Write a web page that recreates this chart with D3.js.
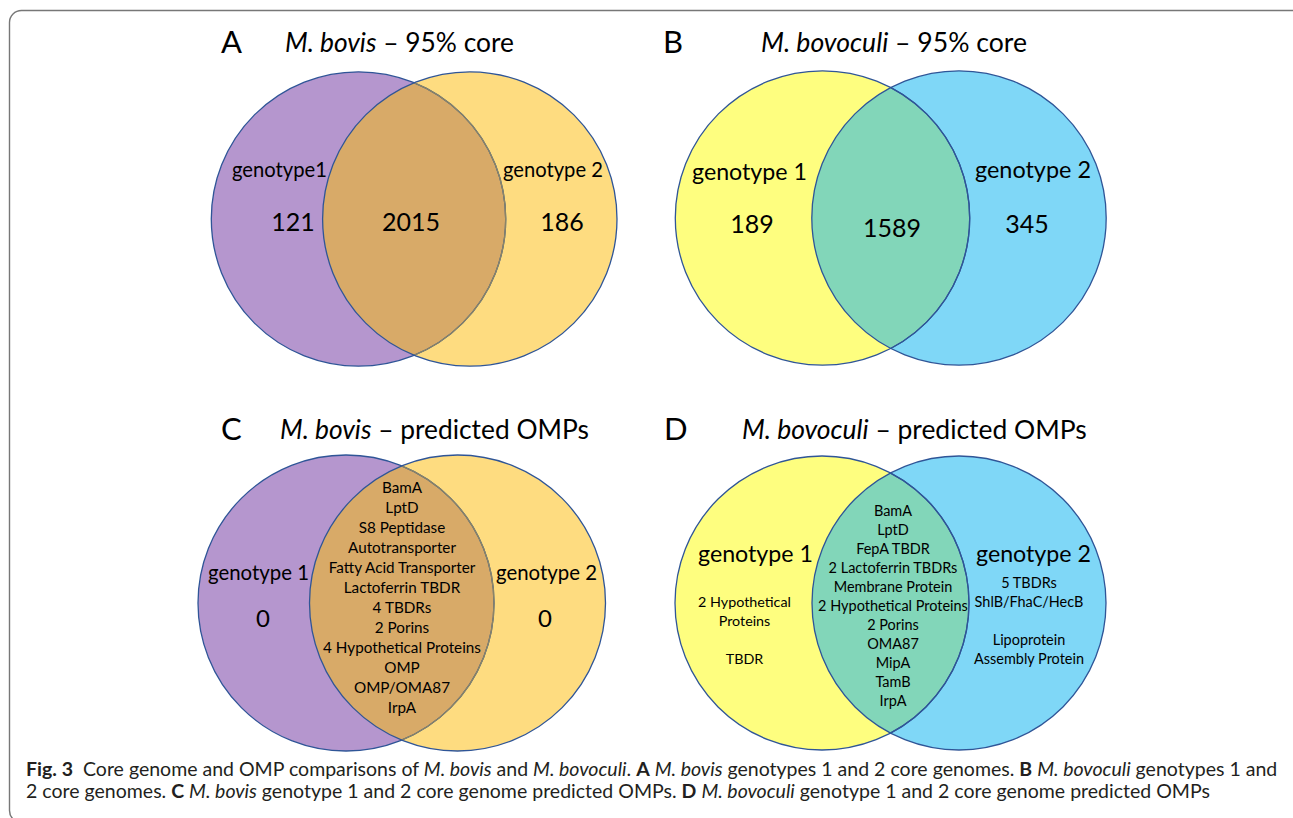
<!DOCTYPE html>
<html>
<head>
<meta charset="utf-8">
<script src="https://cdn.jsdelivr.net/npm/d3@7"></script>
<style>
  body { margin: 0; background: #fff; }
  svg { display: block; }
</style>
</head>
<body>
<svg id="fig" width="1293" height="818"></svg>
<script>
// ---- data ----
const panelLetters = ["A", "B", "C", "D"];
const panelSpecies = ["M. bovis", "M. bovoculi", "M. bovis", "M. bovoculi"];
const panelSubtitles = ["95% core", "95% core", "predicted OMPs", "predicted OMPs"];
const setNames = [
    ["genotype1", "genotype 2"],
    ["genotype 1", "genotype 2"],
    ["genotype 1", "genotype 2"],
    ["genotype 1", "genotype 2"]
];
const bovisCore = [121, 2015, 186];
const bovoculiCore = [189, 1589, 345];
const bovisOmpOnly = [0, 0];
const bovisOmpShared = ["BamA", "LptD", "S8 Peptidase", "Autotransporter",
    "Fatty Acid Transporter", "Lactoferrin TBDR", "4 TBDRs", "2 Porins",
    "4 Hypothetical Proteins", "OMP", "OMP/OMA87", "IrpA"];
const bovoculiOmpG1 = ["2 Hypothetical", "Proteins", "", "TBDR"];
const bovoculiOmpShared = ["BamA", "LptD", "FepA TBDR", "2 Lactoferrin TBDRs",
    "Membrane Protein", "2 Hypothetical Proteins", "2 Porins", "OMA87",
    "MipA", "TamB", "IrpA"];
const bovoculiOmpG2 = ["5 TBDRs", "ShlB/FhaC/HecB", "", "Lipoprotein", "Assembly Protein"];

// ---- layout ----
const FONT = "Lato, 'Open Sans', sans-serif";
const bovisColors = { left: "#B596CE", right: "#FEDC80", lens: "#D8AA68", inner: "#8A8466" };
const bovoculiColors = { left: "#FEFE7F", right: "#7FD7F7", lens: "#82D6B9", inner: "#2F5597" };
const outline = "#2F5597";

const layout = [
    { letterX: 221, titleX: 285, titleW: 229, titleY: 52,
      c1: 358.5, c2: 469.8, cy: 219, r: 147.2, colors: bovisColors,
      labels: [{ x: 232, y: 177, w: 95 }, { x: 503, y: 177, w: 100 }] },
    { letterX: 663, titleX: 761, titleW: 266, titleY: 52,
      c1: 822.5, c2: 959, cy: 218, r: 147.2, colors: bovoculiColors,
      labels: [{ x: 692, y: 180, w: 115 }, { x: 975, y: 178, w: 116 }] },
    { letterX: 221, titleX: 280, titleW: 309, titleY: 439,
      c1: 346, c2: 457.5, cy: 603, r: 148, colors: bovisColors,
      labels: [{ x: 208, y: 580, w: 101 }, { x: 496, y: 580, w: 101 }] },
    { letterX: 664, titleX: 742, titleW: 345, titleY: 439,
      c1: 822, c2: 959, cy: 603, r: 147, colors: bovoculiColors,
      labels: [{ x: 698, y: 562, w: 115 }, { x: 976, y: 562, w: 115 }] }
];

const svg = d3.select("#fig").style("font-family", FONT);
const defs = svg.append("defs");

// fit a text element's width to the picture
function fitWidth(sel, target) {
    sel.each(function () {
        const w = this.getComputedTextLength();
        const fs = parseFloat(d3.select(this).attr("font-size"));
        if (w > 0) d3.select(this).attr("font-size", fs * target / w);
    });
}

// frame
svg.append("rect")
    .attr("x", 9.5).attr("y", 10.5)
    .attr("width", 1300).attr("height", 812)
    .attr("rx", 12)
    .attr("fill", "none")
    .attr("stroke", "#777")
    .attr("stroke-width", 1.4);

layout.forEach((p, i) => {
    const g = svg.append("g");
    const c = p.colors;

    defs.append("clipPath").attr("id", `clipL${i}`)
        .append("circle").attr("cx", p.c1).attr("cy", p.cy).attr("r", p.r);
    defs.append("clipPath").attr("id", `clipR${i}`)
        .append("circle").attr("cx", p.c2).attr("cy", p.cy).attr("r", p.r);

    const circ = (cx) => g.append("circle").attr("cx", cx).attr("cy", p.cy).attr("r", p.r);

    circ(p.c1).attr("fill", c.left);
    circ(p.c2).attr("fill", c.right);
    circ(p.c2).attr("fill", c.lens).attr("clip-path", `url(#clipL${i})`);
    circ(p.c1).attr("fill", "none").attr("stroke", outline).attr("stroke-width", 1.3);
    circ(p.c1).attr("fill", "none").attr("stroke", c.inner).attr("stroke-width", 1.3)
        .attr("clip-path", `url(#clipR${i})`);
    circ(p.c2).attr("fill", "none").attr("stroke", outline).attr("stroke-width", 1.3);

    // panel letter
    g.append("text")
        .attr("x", p.letterX).attr("y", p.titleY + 1)
        .attr("font-size", 31)
        .text(panelLetters[i]);

    // title
    const t = g.append("text")
        .attr("x", p.titleX).attr("y", p.titleY)
        .attr("font-size", 24);
    t.append("tspan").attr("font-style", "italic").text(panelSpecies[i]);
    t.append("tspan").text(" \u2013 " + panelSubtitles[i]);
    fitWidth(t, p.titleW);

    // set labels
    setNames[i].forEach((name, k) => {
        const lb = p.labels[k];
        const tx = g.append("text")
            .attr("x", lb.x).attr("y", lb.y)
            .attr("font-size", 20)
            .text(name);
        fitWidth(tx, lb.w);
    });
});

// counts for the core genome panels
const countPos = [
    { xs: [293, 411, 562], ys: [231, 231, 231] },
    { xs: [752, 892, 1027], ys: [233, 237, 233] }
];
[bovisCore, bovoculiCore].forEach((vals, j) => {
    svg.append("g").selectAll("text")
        .data(vals)
        .join("text")
        .attr("x", (d, k) => countPos[j].xs[k])
        .attr("y", (d, k) => countPos[j].ys[k])
        .attr("text-anchor", "middle")
        .attr("font-size", 25)
        .text(d => d);
});

// zeros for M. bovis OMP
svg.append("g").selectAll("text")
    .data(bovisOmpOnly)
    .join("text")
    .attr("x", (d, k) => [263, 545][k])
    .attr("y", 627)
    .attr("text-anchor", "middle")
    .attr("font-size", 24)
    .text(d => d);

// list of names placed with a point scale
function drawList(items, cx, y0, y1, widest, widestW) {
    const y = d3.scalePoint().domain(d3.range(items.length)).range([y0, y1]);
    const gl = svg.append("g");
    const probe = gl.append("text").attr("font-size", 14).text(widest);
    const fs = 14 * widestW / probe.node().getComputedTextLength();
    probe.remove();
    gl.selectAll("text")
        .data(items)
        .join("text")
        .attr("x", cx)
        .attr("y", (d, k) => y(k))
        .attr("text-anchor", "middle")
        .attr("font-size", fs)
        .text(d => d);
}

drawList(bovisOmpShared, 402, 493, 713, "4 Hypothetical Proteins", 158);
drawList(bovoculiOmpShared, 893, 516, 706, "2 Hypothetical Proteins", 150);
drawList(bovoculiOmpG1, 744.5, 607, 664, "2 Hypothetical", 93);
drawList(bovoculiOmpG2, 1029, 588, 664, "Assembly Protein", 110);

// caption
const captionLines = [
    [["b", "Fig. 3"], ["n", "  Core genome and OMP comparisons of "], ["i", "M. bovis"], ["n", " and "],
     ["i", "M. bovoculi"], ["n", ". "], ["b", "A"], ["n", " "], ["i", "M. bovis"],
     ["n", " genotypes 1 and 2 core genomes. "], ["b", "B"], ["n", " "], ["i", "M. bovoculi"],
     ["n", " genotypes 1 and"]],
    [["n", "2 core genomes. "], ["b", "C"], ["n", " "], ["i", "M. bovis"],
     ["n", " genotype 1 and 2 core genome predicted OMPs. "], ["b", "D"], ["n", " "],
     ["i", "M. bovoculi"], ["n", " genotype 1 and 2 core genome predicted OMPs"]]
];
const capY = [776, 798];
const capTexts = captionLines.map((parts, li) => {
    const ct = svg.append("text")
        .attr("x", 26).attr("y", capY[li])
        .attr("font-size", 16)
        .attr("fill", "#231F20")
        .attr("xml:space", "preserve")
        .style("white-space", "pre");
    parts.forEach(([s, txt]) => {
        const ts = ct.append("tspan").text(txt);
        if (s === "b") ts.attr("font-weight", "bold");
        if (s === "i") ts.attr("font-style", "italic");
    });
    return ct;
});
const w0 = capTexts[0].node().getComputedTextLength();
const capFs = 16 * 1252 / w0;
capTexts.forEach(ct => ct.attr("font-size", capFs));
</script>
</body>
</html>
